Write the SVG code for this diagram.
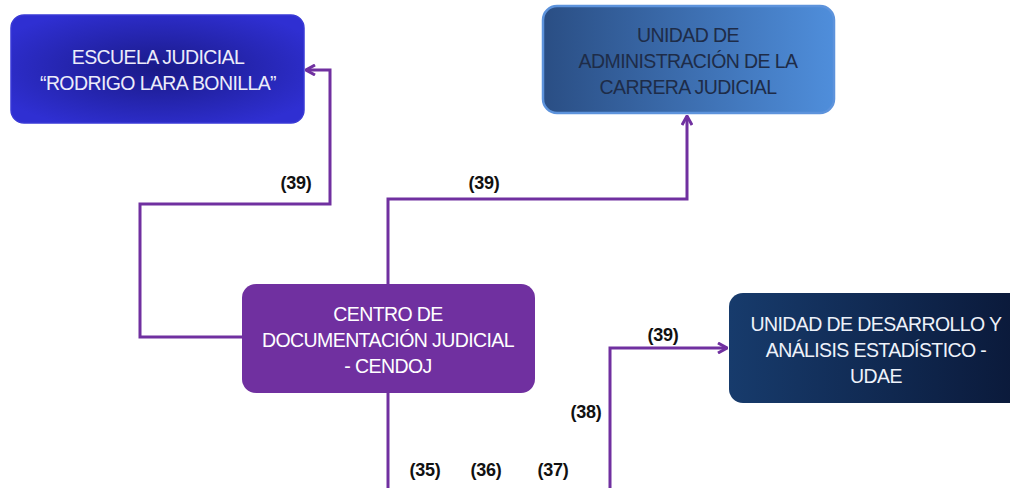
<svg xmlns="http://www.w3.org/2000/svg" width="1010" height="488" viewBox="0 0 1010 488">
<defs>
<radialGradient id="gEsc" cx="50%" cy="50%" r="60%">
<stop offset="0" stop-color="#1a1a88"/>
<stop offset="1" stop-color="#2f2fd2"/>
</radialGradient>
<linearGradient id="gUac" x1="0" y1="0" x2="1" y2="0">
<stop offset="0" stop-color="#2a4e84"/>
<stop offset="1" stop-color="#4f8edb"/>
</linearGradient>
<linearGradient id="gUdae" x1="0" y1="0" x2="1" y2="0">
<stop offset="0" stop-color="#173b6c"/>
<stop offset="1" stop-color="#0a1838"/>
</linearGradient>
<marker id="arr" viewBox="0 0 12 12" refX="11" refY="6" markerWidth="12" markerHeight="12" markerUnits="userSpaceOnUse" orient="auto">
<polyline points="2,1 11,6 2,11" fill="none" stroke="#7030a0" stroke-width="3" stroke-linejoin="miter"/>
</marker>
<style>
.node text{font-family:"Liberation Sans",Arial,sans-serif;font-size:19.5px;text-anchor:middle;letter-spacing:-0.6px}
.lbl{font-family:"Liberation Sans",Arial,sans-serif;font-size:18px;font-weight:bold;fill:#111;text-anchor:middle;letter-spacing:-0.3px}
.conn{fill:none;stroke:#7030a0;stroke-width:3}
</style>
</defs>
<rect width="1010" height="488" fill="#fff"/>
<g id="connectors">
<polyline class="conn" points="242,337 140,337 140,204 330,204 330,70 306,70" marker-end="url(#arr)"/>
<polyline class="conn" points="388,284 388,199 687,199 687,116" marker-end="url(#arr)"/>
<polyline class="conn" points="610,488 610,348 727,348" marker-end="url(#arr)"/>
<line class="conn" x1="388" y1="393" x2="388" y2="488"/>
<text class="lbl" x="296" y="189">(39)</text>
<text class="lbl" x="484" y="189">(39)</text>
<text class="lbl" x="663" y="341">(39)</text>
<text class="lbl" x="586" y="418">(38)</text>
<text class="lbl" x="425" y="476">(35)</text>
<text class="lbl" x="486" y="476">(36)</text>
<text class="lbl" x="553" y="476">(37)</text>
</g>
<g id="escuela" class="node">
<rect x="11" y="15" width="293" height="108" rx="13" fill="url(#gEsc)" stroke="#3a3ad6" stroke-width="1.5"/>
<text x="158" y="64" fill="#ececfa">ESCUELA JUDICIAL</text>
<text x="158" y="90" fill="#ececfa">“RODRIGO LARA BONILLA”</text>
</g>
<g id="uac" class="node">
<rect x="543" y="6" width="291" height="107" rx="14" fill="url(#gUac)" stroke="#5d93dc" stroke-width="2.5"/>
<text x="688" y="42" fill="#1e2c48">UNIDAD DE</text>
<text x="688" y="68" fill="#1e2c48">ADMINISTRACIÓN DE LA</text>
<text x="688" y="94" fill="#1e2c48">CARRERA JUDICIAL</text>
</g>
<g id="cendoj" class="node">
<rect x="242" y="284" width="293" height="109" rx="14" fill="#7030a0"/>
<text x="388" y="321" fill="#fff">CENTRO DE</text>
<text x="388" y="347" fill="#fff">DOCUMENTACIÓN JUDICIAL</text>
<text x="388" y="373" fill="#fff">- CENDOJ</text>
</g>
<g id="udae" class="node">
<rect x="729" y="293" width="300" height="110" rx="14" fill="url(#gUdae)"/>
<text x="876" y="331" fill="#eef2fa">UNIDAD DE DESARROLLO Y</text>
<text x="876" y="357" fill="#eef2fa">ANÁLISIS ESTADÍSTICO -</text>
<text x="876" y="383" fill="#eef2fa">UDAE</text>
</g>
</svg>
